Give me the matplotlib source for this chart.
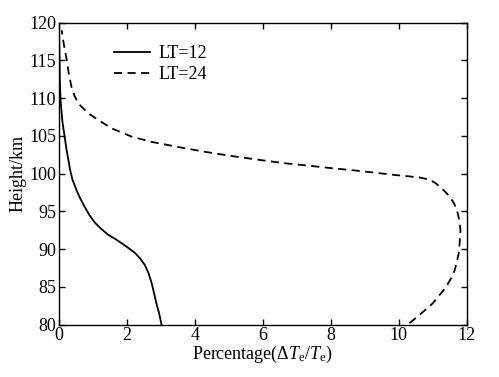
import matplotlib
matplotlib.use("Agg")
import matplotlib.pyplot as plt
import numpy as np

plt.rcParams['font.family'] = ['Liberation Serif', 'DejaVu Serif']
plt.rcParams['mathtext.fontset'] = 'custom'
plt.rcParams['mathtext.rm'] = 'Liberation Serif'
plt.rcParams['mathtext.it'] = 'Liberation Serif:italic'

# LT=12 (solid)
h12 = [80.0, 81.5, 82.8, 84.2, 85.5, 86.8, 87.9, 88.7, 89.5, 90.2, 90.8, 91.4, 91.9, 92.7, 93.5, 94.5, 95.6, 96.7, 97.8, 99.2, 100.5, 101.8, 103.3, 104.9, 107.0, 109.7, 112.0, 115.0, 118.0, 120.0]
p12 = [3.02, 2.95, 2.87, 2.80, 2.73, 2.64, 2.53, 2.40, 2.24, 2.03, 1.84, 1.64, 1.45, 1.24, 1.06, 0.90, 0.76, 0.63, 0.52, 0.40, 0.33, 0.28, 0.22, 0.17, 0.10, 0.05, 0.03, 0.02, 0.01, 0.0]

# LT=24 (dashed)
h24 = [80.2, 81.3, 82.8, 84.0, 85.0, 86.1, 87.2, 88.4, 89.5, 91.0, 92.5, 93.7, 94.75, 96.0, 97.0, 97.9, 98.7, 99.2, 99.5, 99.8, 100.05, 100.4, 100.7, 101.05, 101.4, 101.85, 102.3, 102.85, 103.4, 103.7, 104.2, 104.9, 105.5, 106.0, 107.1, 108.0, 109.3, 110.3, 111.5, 113.3, 115.1, 117.0, 119.0]
p24 = [10.32, 10.62, 11.0, 11.22, 11.4, 11.54, 11.65, 11.72, 11.77, 11.80, 11.82, 11.79, 11.74, 11.64, 11.5, 11.3, 11.1, 10.91, 10.6, 9.93, 9.44, 8.75, 8.07, 7.35, 6.6, 5.85, 5.13, 4.35, 3.66, 3.31, 2.73, 2.14, 1.82, 1.55, 1.16, 0.86, 0.57, 0.46, 0.37, 0.29, 0.23, 0.15, 0.08]

fig = plt.figure(figsize=(4.99, 3.77), dpi=100)
ax = fig.add_axes([0.118, 0.139, 0.817, 0.801])

ax.plot(p12, h12, color='black', lw=1.3, label='LT=12')
ax.plot(p24, h24, color='black', lw=1.3, ls=(0, (4.5, 3)), label='LT=24')

ax.set_xlim(0, 12)
ax.set_ylim(80, 120)
ax.set_xticks([0, 2, 4, 6, 8, 10, 12])
ax.set_yticks(np.arange(80, 121, 5))
ax.tick_params(direction='in', top=True, right=True, length=4, width=1, labelsize=13, pad=2)
for s in ax.spines.values():
    s.set_linewidth(1)

ax.set_xlabel(r'Percentage($\Delta T_\mathrm{e}/T_\mathrm{e}$)', fontsize=13, labelpad=0)
ax.set_ylabel('Height/km', fontsize=13, labelpad=2)

ax.legend(loc='upper left', bbox_to_anchor=(0.095, 0.98), frameon=False, fontsize=13,
          handlelength=2.0, handletextpad=0.45, labelspacing=0.25)

fig.savefig('out.png', dpi=100)
